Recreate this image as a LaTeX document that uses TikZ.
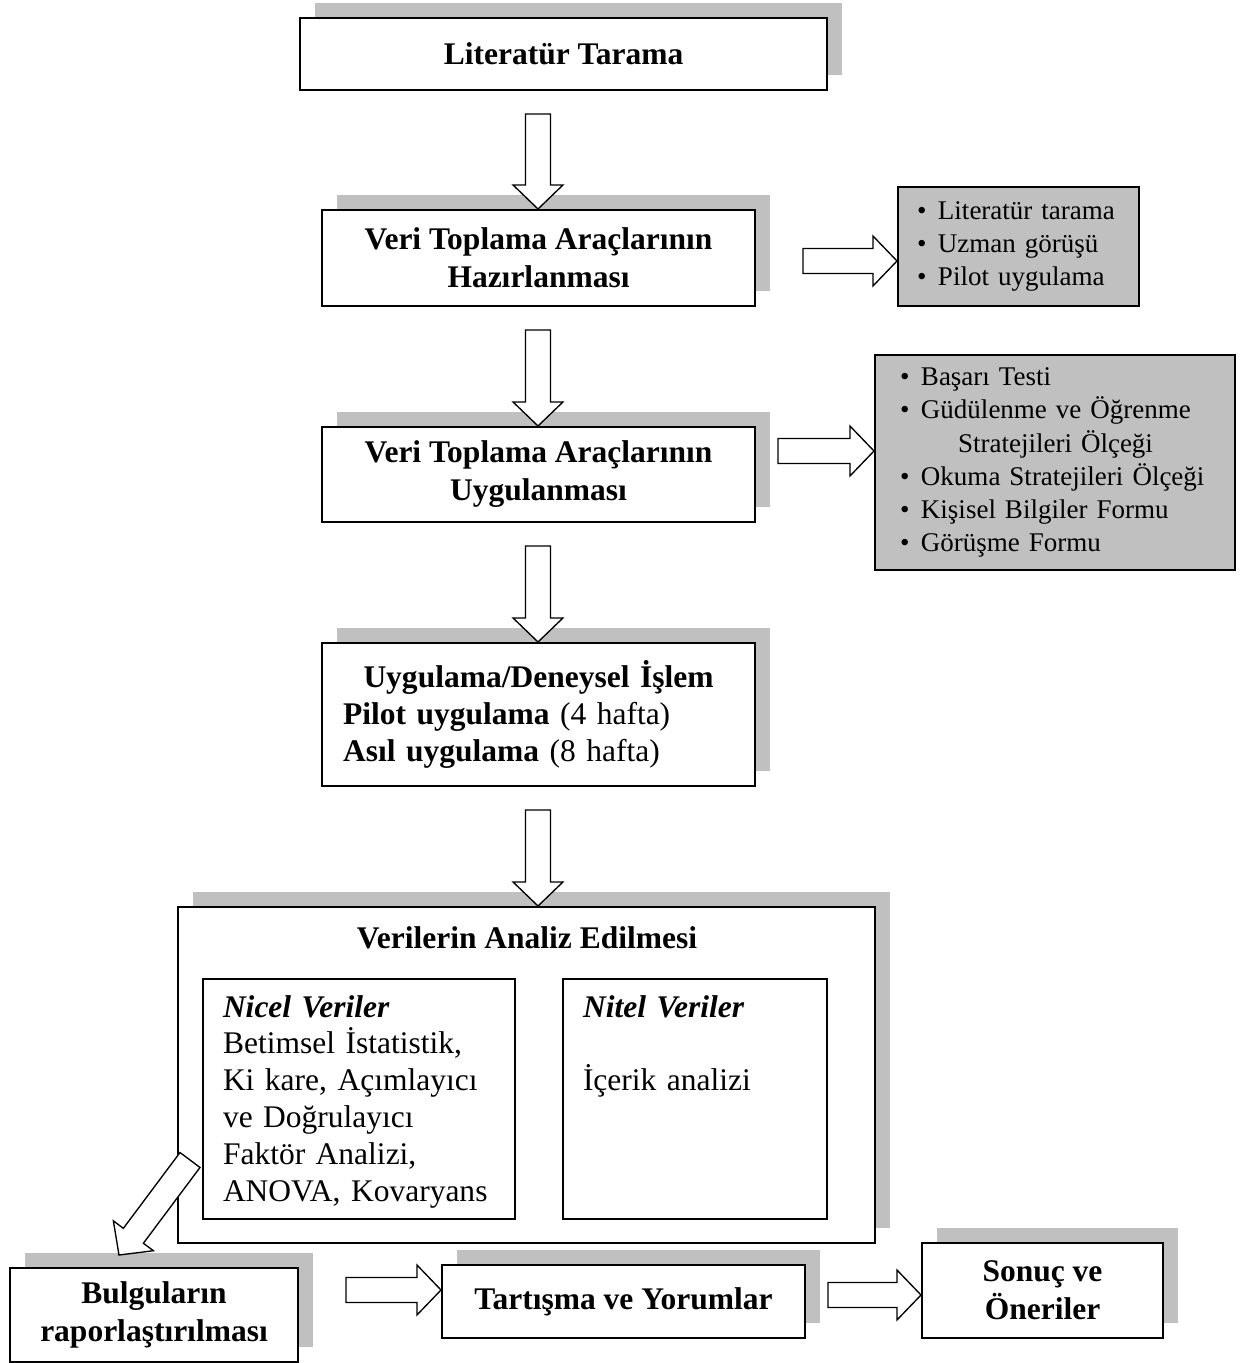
\documentclass[tikz,border=0pt]{standalone}
\usepackage{fontspec}
\setmainfont{Liberation Serif}
\usetikzlibrary{positioning, calc, shadows}
\definecolor{ShadowGray}{RGB}{192, 192, 192}
\newdimen\px \px=0.4444pt
\newcommand{\madde}{\makebox[21\px][l]{\textbullet}}

\begin{document}
\begin{tikzpicture}[
                    x=0.4444pt, y=-0.4444pt,
                    mainbox/.style={rectangle, draw=black, line width=0.9pt, fill=white, align=center, inner sep=0pt,
                                    font=\fontsize{14}{16.9}\selectfont\bfseries,
                                    drop shadow={shadow xshift=15\px, shadow yshift=15\px, fill=ShadowGray, opacity=1, draw=none}},
                    innerbox/.style={rectangle, draw=black, line width=0.7pt, fill=white, align=left, inner xsep=20\px, inner ysep=0pt,
                                     text height=38\px, text depth=202\px, font=\fontsize{14}{16.4}\selectfont},
                    listbox/.style={rectangle, draw=black, line width=0.9pt, fill=ShadowGray, align=left, inner ysep=0pt,
                                    font=\fontsize{12}{14.7}\selectfont},
                    blockarrow/.style={draw=black, fill=white, line width=0.6pt, line join=miter,
                                       to path={($(\tikztostart)!5.55pt!90:(\tikztotarget)$)
                                                -- ($($(\tikztotarget)!10.67pt!(\tikztostart)$)!5.55pt!90:(\tikztotarget)$)
                                                -- ($($(\tikztotarget)!10.67pt!(\tikztostart)$)!11.1pt!90:(\tikztotarget)$)
                                                -- (\tikztotarget)
                                                -- ($($(\tikztotarget)!10.67pt!(\tikztostart)$)!11.1pt!-90:(\tikztotarget)$)
                                                -- ($($(\tikztotarget)!10.67pt!(\tikztostart)$)!5.55pt!-90:(\tikztotarget)$)
                                                -- ($(\tikztostart)!5.55pt!-90:(\tikztotarget)$) -- cycle}}
                ]
                    \useasboundingbox (0,0) rectangle (1249,1363);

                    % main column
                    \node[mainbox, minimum width=527\px, minimum height=72\px] (lit) at (563.5,54) {Literatür Tarama};
                    \node[mainbox, minimum width=433\px, minimum height=96\px] (hazir) at (538.5,258) {Veri Toplama Araçlarının\\Hazırlanması};
                    \node[mainbox, minimum width=433\px, minimum height=95\px] (uygul) at (538.5,474.5) {Veri Toplama Araçlarının\\Uygulanması};
                    \node[mainbox, minimum width=433\px, minimum height=143\px, align=left, text width=391\px, font=\fontsize{14}{16.4}\selectfont\bfseries] (deney) at (538.5,714.5)
                        {\makebox[\linewidth]{Uygulama/Deneysel İşlem}\\Pilot uygulama {\mdseries(4 hafta)}\\Asıl uygulama {\mdseries(8 hafta)}};

                    % side lists
                    \node[listbox, minimum width=241\px, minimum height=119\px, text width=203\px, inner xsep=19\px] (liste1) at (1018.5,246.5)
                        {\madde Literatür tarama\\\madde Uzman görüşü\\\madde Pilot uygulama};
                    \node[listbox, minimum width=360\px, minimum height=215\px, text width=310\px, inner xsep=25\px] (liste2) at (1055,462.5)
                        {\madde Başarı Testi\\\madde Güdülenme ve Öğrenme\\\hspace*{58\px}Stratejileri Ölçeği\\\madde Okuma Stratejileri Ölçeği\\\madde Kişisel Bilgiler Formu\\\madde Görüşme Formu};

                    % analysis
                    \node[mainbox, minimum width=697\px, minimum height=336\px] (analiz) at (526.5,1075) {};
                    \node[font=\fontsize{14}{16.9}\selectfont\bfseries] (analizbaslik) at (527,938) {Verilerin Analiz Edilmesi};
                    \node[innerbox, text width=272\px] (nicel) at (359,1099)
                        {\textbf{\textit{Nicel Veriler}}\\Betimsel İstatistik,\\Ki kare, Açımlayıcı\\ve Doğrulayıcı\\Faktör Analizi,\\ANOVA, Kovaryans};
                    \node[innerbox, text width=224\px] (nitel) at (695,1099)
                        {\textbf{\textit{Nitel Veriler}}\\[16.4pt]İçerik analizi};

                    % bottom row
                    \node[mainbox, minimum width=288\px, minimum height=94\px] (bulgu) at (154,1315) {Bulguların\\raporlaştırılması};
                    \node[mainbox, minimum width=363\px, minimum height=73\px] (tartis) at (623.5,1301.5) {Tartışma ve Yorumlar};
                    \node[mainbox, minimum width=241\px, minimum height=95\px] (sonuc) at (1042.5,1290.5) {Sonuç ve\\Öneriler};

                    \coordinate (a1) at (538,114);
                    \coordinate (a2) at (538,330);
                    \coordinate (a3) at (538,546);
                    \coordinate (a4) at (538,810);
                    \coordinate (h1) at (803,261);
                    \coordinate (h2) at (778,451);
                    \coordinate (h3) at (346,1290);
                    \coordinate (h4) at (828,1295);
                    \coordinate (d1) at (190,1160);
                    \coordinate (d2) at (119,1255);

                    \draw[blockarrow] (a1) to (a1 |- hazir.north);
                    \draw[blockarrow] (a2) to (a2 |- uygul.north);
                    \draw[blockarrow] (a3) to (a3 |- deney.north);
                    \draw[blockarrow] (a4) to (a4 |- analiz.north);
                    \draw[blockarrow] (h1) to (h1 -| liste1.west);
                    \draw[blockarrow] (h2) to (h2 -| liste2.west);
                    \draw[blockarrow] (d1) to (d2);
                    \draw[blockarrow] (h3) to (h3 -| tartis.west);
                    \draw[blockarrow] (h4) to (h4 -| sonuc.west);
                \end{tikzpicture}
\end{document}
